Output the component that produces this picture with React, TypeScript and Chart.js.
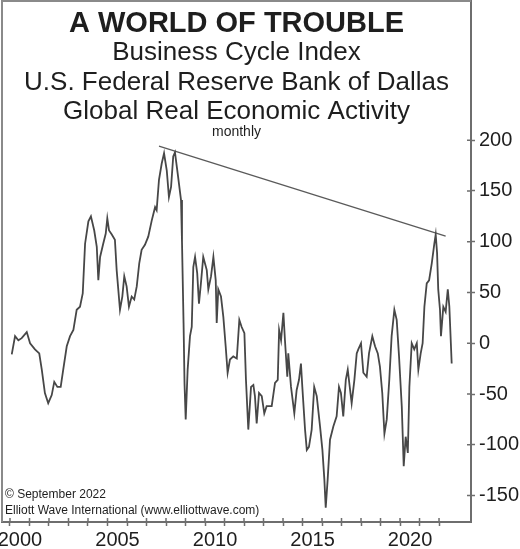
import React, { useEffect, useRef } from 'react';
import { Chart, registerables } from 'chart.js';

Chart.register(...registerables);

// Decimal-year positions of the readings and index values
const years: number[] = [
  2000.09, 2000.26, 2000.43, 2000.6, 2000.86, 2001.03, 2001.28, 2001.5, 2001.63, 2001.79,
  2001.96, 2002.14, 2002.27, 2002.43, 2002.6, 2002.73, 2002.91, 2003.08, 2003.25, 2003.42,
  2003.59, 2003.73, 2003.85, 2004.02, 2004.15, 2004.32, 2004.45, 2004.53, 2004.62, 2004.78,
  2004.91, 2004.99, 2005.08, 2005.22, 2005.38, 2005.47, 2005.64, 2005.76, 2005.86, 2005.98,
  2006.1, 2006.24, 2006.37, 2006.5, 2006.63, 2006.75, 2006.92, 2007.09, 2007.27, 2007.44,
  2007.52, 2007.64, 2007.78, 2007.9, 2008.04, 2008.15, 2008.26, 2008.37, 2008.46, 2008.6,
  2008.77, 2008.82, 2008.9, 2008.95, 2009.01, 2009.11, 2009.23, 2009.32, 2009.4, 2009.49,
  2009.6, 2009.69, 2009.79, 2009.91, 2010.09, 2010.17, 2010.31, 2010.43, 2010.55, 2010.6,
  2010.68, 2010.82, 2010.94, 2011.06, 2011.16, 2011.28, 2011.45, 2011.63, 2011.76, 2011.88,
  2012.02, 2012.1, 2012.22, 2012.36, 2012.48, 2012.56, 2012.65, 2012.77, 2012.91, 2013.04,
  2013.16, 2013.25, 2013.42, 2013.59, 2013.73, 2013.8, 2013.9, 2014.02, 2014.1, 2014.22,
  2014.27, 2014.41, 2014.58, 2014.7, 2014.82, 2014.92, 2014.99, 2015.13, 2015.22, 2015.33,
  2015.47, 2015.6, 2015.73, 2015.9, 2016.02, 2016.12, 2016.19, 2016.29, 2016.41, 2016.58,
  2016.75, 2016.87, 2016.97, 2017.09, 2017.22, 2017.32, 2017.44, 2017.52, 2017.66, 2017.78,
  2017.86, 2018.0, 2018.12, 2018.29, 2018.41, 2018.58, 2018.72, 2018.86, 2018.97, 2019.09,
  2019.2, 2019.32, 2019.45, 2019.57, 2019.71, 2019.83, 2019.95, 2020.09, 2020.19, 2020.29,
  2020.4, 2020.48, 2020.6, 2020.73, 2020.86, 2020.94, 2021.06, 2021.16, 2021.25, 2021.37,
  2021.49, 2021.63, 2021.76, 2021.83, 2021.9, 2021.96, 2022.05, 2022.1, 2022.22, 2022.34,
  2022.45, 2022.53, 2022.65,
];

const values: number[] = [
  -11, 7, 3, 5, 11, 0, -6, -10, -26, -49,
  -59, -51, -38, -43, -43, -26, -3, 7, 13, 33,
  36, 49, 98, 120, 125, 111, 95, 62, 85, 98,
  108, 123, 111, 107, 102, 72, 33, 46, 66, 56,
  36, 46, 43, 56, 79, 92, 97, 105, 121, 134,
  131, 161, 177, 187, 170, 144, 154, 184, 188, 167,
  141, 100, 20, -40, -75, -26, 7, 16, 75, 85,
  69, 39, 59, 85, 72, 53, 66, 85, 62, 20,
  53, 46, 26, -3, -29, -16, -13, -15, 23, 16,
  10, -36, -85, -43, -41, -52, -79, -49, -52, -69,
  -62, -62, -62, -39, -36, 13, 3, 30, 3, -33,
  -10, -43, -69, -46, -36, -20, -43, -85, -105, -102,
  -85, -43, -52, -82, -105, -134, -162, -134, -95, -82,
  -72, -43, -49, -72, -36, -26, -46, -59, -36, -10,
  -6, 0, -29, -33, -10, 7, -3, -10, -23, -49,
  -89, -75, -36, 7, 33, 23, -13, -62, -121, -92,
  -108, -43, 0, -6, 0, -26, -10, 0, 36, 59,
  62, 79, 98, 107, 89, 53, 33, 7, 36, 31,
  53, 36, -20,
];

const trendYears: number[] = [2007.64, 2022.34];
const trendValues: number[] = [194, 105.5];

const xTickYears: number[] = [
  2000, 2001, 2002, 2003, 2004, 2005, 2006, 2007, 2008, 2009, 2010, 2011,
  2012, 2013, 2014, 2015, 2016, 2017, 2018, 2019, 2020, 2021, 2022,
];
const xLabelYears: number[] = [2000, 2005, 2010, 2015, 2020];
const yTicks: number[] = [-150, -100, -50, 0, 50, 100, 150, 200];

const titleMain = 'A WORLD OF TROUBLE';
const subtitleLines: string[] = [
  'Business Cycle Index',
  'U.S. Federal Reserve Bank of Dallas',
  'Global Real Economic Activity',
];
const noteText = 'monthly';
const footerLines: string[] = [
  '\u00A9 September 2022',
  'Elliott Wave International (www.elliottwave.com)',
];

const FONT = '"Liberation Sans", Arial, Helvetica, sans-serif';
const AXIS_COLOR = '#6e6e6e';
const TEXT_COLOR = '#1e1e1e';

const zeroPadding = (scale: any) => {
  scale.paddingLeft = 0;
  scale.paddingRight = 0;
  scale.paddingTop = 0;
  scale.paddingBottom = 0;
};

const framePlugin = {
  id: 'framePlugin',
  afterDraw(chart: any) {
    const { ctx, chartArea, scales } = chart;
    const { left, right, top, bottom } = chartArea;
    ctx.save();
    // left and top frame lines
    ctx.strokeStyle = '#8a8a8a';
    ctx.lineWidth = 2;
    ctx.beginPath();
    ctx.moveTo(left, bottom);
    ctx.lineTo(left, top);
    ctx.lineTo(right, top);
    ctx.stroke();
    // inner halves of crossing ticks
    ctx.strokeStyle = AXIS_COLOR;
    ctx.lineWidth = 1.5;
    ctx.beginPath();
    scales.x.ticks.forEach((t: any) => {
      const px = scales.x.getPixelForValue(t.value);
      ctx.moveTo(px, bottom - 4);
      ctx.lineTo(px, bottom);
    });
    scales.y.ticks.forEach((t: any) => {
      const py = scales.y.getPixelForValue(t.value);
      ctx.moveTo(right - 4, py);
      ctx.lineTo(right, py);
    });
    ctx.stroke();

    // titles
    const cx = (left + right) / 2;
    ctx.fillStyle = TEXT_COLOR;
    ctx.textAlign = 'center';
    ctx.textBaseline = 'alphabetic';
    ctx.font = `bold 29px ${FONT}`;
    ctx.fillText(titleMain, cx, top + 31);
    ctx.font = `26px ${FONT}`;
    subtitleLines.forEach((line, i) => {
      ctx.fillText(line, cx, top + 59 + i * 29.5);
    });
    ctx.font = `14px ${FONT}`;
    ctx.fillText(noteText, cx, top + 135);

    // footer
    ctx.textAlign = 'left';
    ctx.font = `12px ${FONT}`;
    footerLines.forEach((line, i) => {
      ctx.fillText(line, left + 3, bottom - 24 + i * 16);
    });
    ctx.restore();
  },
};

export default function App() {
  const canvasRef = useRef<HTMLCanvasElement | null>(null);

  useEffect(() => {
    if (!canvasRef.current) return;
    const chart = new Chart(canvasRef.current, {
      type: 'line',
      data: {
        datasets: [
          {
            label: 'Global Real Economic Activity',
            data: years.map((x, i) => ({ x, y: values[i] })),
            borderColor: '#474747',
            borderWidth: 1.8,
            pointRadius: 0,
            tension: 0,
            fill: false,
          },
          {
            label: 'Trend',
            data: trendYears.map((x, i) => ({ x, y: trendValues[i] })),
            borderColor: '#5a5a5a',
            borderWidth: 1.3,
            pointRadius: 0,
            fill: false,
          },
        ],
      },
      options: {
        animation: false,
        responsive: false,
        maintainAspectRatio: false,
        layout: { padding: { left: 2, top: 1, right: 0, bottom: 0 } },
        plugins: {
          legend: { display: false },
          title: { display: false },
          tooltip: { enabled: false },
        },
        scales: {
          x: {
            type: 'linear',
            position: 'bottom',
            min: 1999.59,
            max: 2023.64,
            afterBuildTicks: (scale: any) => {
              scale.ticks = xTickYears.map((v) => ({ value: v }));
            },
            afterFit: (scale: any) => {
              scale.height = 27;
              zeroPadding(scale);
            },
            grid: {
              drawOnChartArea: false,
              drawTicks: true,
              tickLength: 4,
              tickColor: AXIS_COLOR,
              tickWidth: 1.5,
            },
            border: { display: true, color: AXIS_COLOR, width: 2 },
            ticks: {
              autoSkip: false,
              maxRotation: 0,
              minRotation: 0,
              padding: 2,
              labelOffset: 10,
              color: TEXT_COLOR,
              font: { family: FONT, size: 20 },
              callback: (v: any) => (xLabelYears.includes(Number(v)) ? String(v) : ''),
            },
          },
          y: {
            type: 'linear',
            position: 'right',
            min: -176,
            max: 337,
            afterBuildTicks: (scale: any) => {
              scale.ticks = yTicks.map((v) => ({ value: v }));
            },
            afterFit: (scale: any) => {
              scale.width = 49;
              zeroPadding(scale);
            },
            grid: {
              drawOnChartArea: false,
              drawTicks: true,
              tickLength: 4,
              tickColor: AXIS_COLOR,
              tickWidth: 1.5,
            },
            border: { display: true, color: AXIS_COLOR, width: 2 },
            ticks: {
              padding: 4,
              color: TEXT_COLOR,
              font: { family: FONT, size: 20 },
              callback: (v: any) => String(v),
            },
          },
        },
      },
      plugins: [framePlugin],
    });
    return () => chart.destroy();
  }, []);

  return (
    <div style={{ position: 'absolute', left: 0, top: 0, width: 520, height: 549, background: '#fff' }}>
      <canvas ref={canvasRef} width={520} height={549} style={{ display: 'block' }} />
    </div>
  );
}
